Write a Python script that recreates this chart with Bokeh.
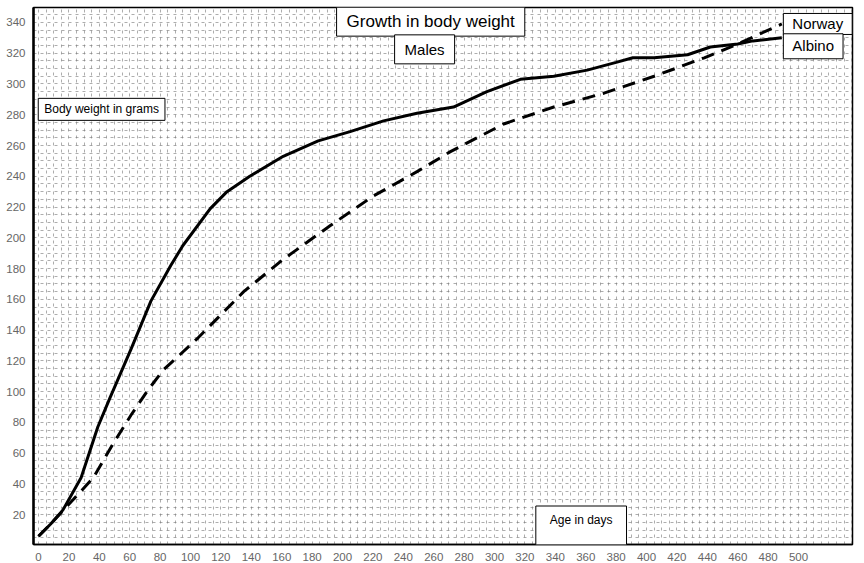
from bokeh.plotting import figure
from bokeh.models import Range1d, FixedTicker, SingleIntervalTicker, Label
from bokeh.embed import file_html
from bokeh.resources import INLINE

# Albino (solid line) - age in days vs body weight in grams
albino_days = [0, 8, 16, 28, 39, 47, 61, 74, 87, 95, 113, 124, 139, 161, 184, 205,
               227, 249, 273, 295, 317, 339, 361, 380, 391, 405, 427, 442, 460, 470, 489]
albino_weight = [6, 14, 23, 44, 77, 96, 128, 159, 182, 195, 219, 230, 240, 253, 263, 269,
                 276, 281, 285, 295, 303, 305, 309, 314, 317, 317, 319, 324, 326, 328, 330]

# Norway (dashed line)
norway_days = [0, 8, 23, 36, 49, 61, 72, 82, 93, 105, 122, 135, 161, 192, 220,
               249, 271, 306, 339, 372, 405, 438, 460, 489]
norway_weight = [6, 14, 30, 44, 66, 85, 101, 114, 124, 135, 152, 165, 186, 208, 227,
                 243, 256, 274, 285, 294, 305, 317, 326, 339]

x_ticks = list(range(0, 501, 20))
y_ticks = list(range(20, 341, 20))

FONT = "Liberation Sans"

p = figure(width=864, height=563, output_backend="svg", toolbar_location=None,
           x_range=Range1d(-3.3, 535.5), y_range=Range1d(0.65, 349.7),
           min_border_left=33, min_border_right=12, min_border_top=7,
           min_border_bottom=15)

p.background_fill_color = "white"
p.border_fill_color = "white"
p.outline_line_color = "black"
p.outline_line_width = 1.5

# graph-paper grid
p.xgrid.ticker = SingleIntervalTicker(interval=5)
p.ygrid.ticker = SingleIntervalTicker(interval=5)
for g in (p.xgrid, p.ygrid):
    g.grid_line_color = "#777777"
    g.grid_line_alpha = 0.6
    g.grid_line_width = 1
    g.grid_line_dash = "3 4"

p.xaxis.ticker = FixedTicker(ticks=x_ticks)
p.yaxis.ticker = FixedTicker(ticks=y_ticks)
for ax in (p.xaxis, p.yaxis):
    ax.major_tick_line_color = None
    ax.minor_tick_line_color = None
    ax.major_label_text_font = FONT
    ax.major_label_text_font_size = "11.5px"
    ax.major_label_text_color = "#666666"
    ax.major_label_standoff = 2
    ax.axis_line_color = "black"
p.yaxis.axis_line_width = 2.5
p.xaxis.axis_line_width = 1.5

p.line(albino_days, albino_weight, line_color="black", line_width=3)
p.line(norway_days, norway_weight, line_color="black", line_width=3,
       line_dash="13 8")

def box(x, y, text, size, align="center", ph=7, pt=3, pb=3):
    lab = Label(x=x, y=y, text=text, text_font=FONT, text_font_size=size,
                text_color="black", text_align=align, text_baseline="middle",
                background_fill_color="white", border_line_color="black",
                border_line_width=1,
                padding=dict(left=ph, right=ph, top=pt, bottom=pb))
    p.add_layout(lab)

box(258, 340.5, "Growth in body weight", "17px", ph=10, pt=5, pb=5)
box(254, 322.5, "Males", "15px", ph=10, pt=6, pb=6)
box(41.5, 283.5, "Body weight in grams", "12px", ph=6, pt=4, pb=4)
box(490, 339, "Norway", "15px", align="left", ph=9, pt=2, pb=2)
box(490, 324.5, "Albino", "15px", align="left", ph=9, pt=3, pb=5)
box(357, 13, "Age in days", "12px", ph=14, pt=7, pb=18)

open("out.html", "w").write(file_html(p, INLINE))
